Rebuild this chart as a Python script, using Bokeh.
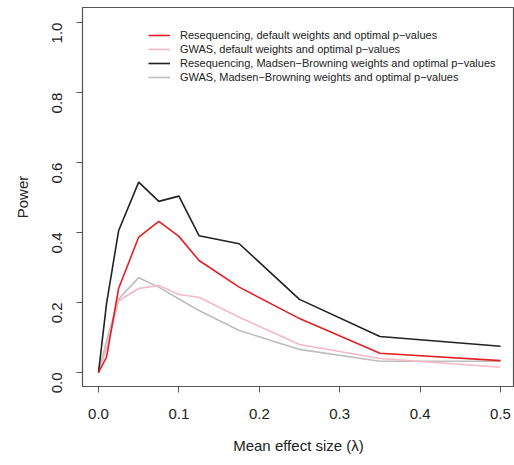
import math
from bokeh.plotting import figure
from bokeh.models import Range1d, FixedTicker, Legend, LegendItem
from bokeh.embed import file_html
from bokeh.resources import INLINE

effect = [0.0, 0.01, 0.025, 0.05, 0.075, 0.1, 0.125, 0.175, 0.25, 0.35, 0.5]
reseq_default = [0.0, 0.044, 0.24, 0.387, 0.432, 0.389, 0.32, 0.244, 0.154, 0.055, 0.034]
gwas_default = [0.0, 0.07, 0.205, 0.24, 0.249, 0.223, 0.215, 0.158, 0.08, 0.04, 0.015]
reseq_mb = [0.0, 0.197, 0.405, 0.544, 0.489, 0.504, 0.391, 0.368, 0.209, 0.103, 0.075]
gwas_mb = [0.0, 0.09, 0.21, 0.271, 0.244, 0.21, 0.177, 0.12, 0.066, 0.032, 0.032]

labels = [
    "Resequencing, default weights and optimal p\u2212values",
    "GWAS, default weights and optimal p\u2212values",
    "Resequencing, Madsen\u2212Browning weights and optimal p\u2212values",
    "GWAS, Madsen\u2212Browning weights and optimal p\u2212values",
]
colors = ["#e41f26", "#f6b8c4", "#222222", "#bdbdbd"]
series = [reseq_default, gwas_default, reseq_mb, gwas_mb]

FONT = "Liberation Sans"

p = figure(width=514, height=462, output_backend="svg", toolbar_location=None,
           x_range=Range1d(-0.0199, 0.5174), y_range=Range1d(-0.04, 1.043),
           min_border_left=82, min_border_right=0, min_border_top=7, min_border_bottom=76)
p.grid.visible = False
p.outline_line_color = "#555555"
p.outline_line_width = 1.2

items = []
draw_order = [3, 1, 2, 0]
renderers = {}
for i in draw_order:
    r = p.line(effect, series[i], line_color=colors[i], line_width=1.6)
    renderers[i] = r
for i in range(4):
    items.append(LegendItem(label=labels[i], renderers=[renderers[i]]))

leg = Legend(items=items, location=(66, 302), padding=0, margin=0, spacing=0,
             border_line_alpha=0, background_fill_alpha=0,
             glyph_width=22, glyph_height=14, label_height=14, label_standoff=10,
             label_text_font=FONT, label_text_font_size="11px", label_text_color="#222222")
p.add_layout(leg)

for ax in (p.xaxis[0], p.yaxis[0]):
    ax.axis_line_color = "#555555"
    ax.major_tick_line_color = "#555555"
    ax.major_tick_out = 6
    ax.major_tick_in = 0
    ax.minor_tick_line_color = None
    ax.major_label_text_font = FONT
    ax.major_label_text_font_size = "15px"
    ax.major_label_text_color = "#222222"
    ax.axis_label_text_font = FONT
    ax.axis_label_text_font_size = "15px"
    ax.axis_label_text_font_style = "normal"
    ax.axis_label_text_color = "#222222"

p.xaxis.ticker = FixedTicker(ticks=[0.0, 0.1, 0.2, 0.3, 0.4, 0.5])
p.xaxis.major_label_overrides = {0.0: "0.0", 0.1: "0.1", 0.2: "0.2", 0.3: "0.3", 0.4: "0.4", 0.5: "0.5"}
p.xaxis.major_label_standoff = 16
p.xaxis.axis_label = "Mean effect size (\u03bb)"
p.xaxis.axis_label_standoff = 15

p.yaxis.ticker = FixedTicker(ticks=[0.0, 0.2, 0.4, 0.6, 0.8, 1.0])
p.yaxis.major_label_overrides = {0.0: "0.0", 0.2: "0.2", 0.4: "0.4", 0.6: "0.6", 0.8: "0.8", 1.0: "1.0"}
p.yaxis.major_label_orientation = math.pi / 2
p.yaxis.major_label_standoff = 19
p.yaxis.axis_label = "Power"
p.yaxis.axis_label_standoff = 14

open("out.html", "w").write(file_html(p, INLINE))
